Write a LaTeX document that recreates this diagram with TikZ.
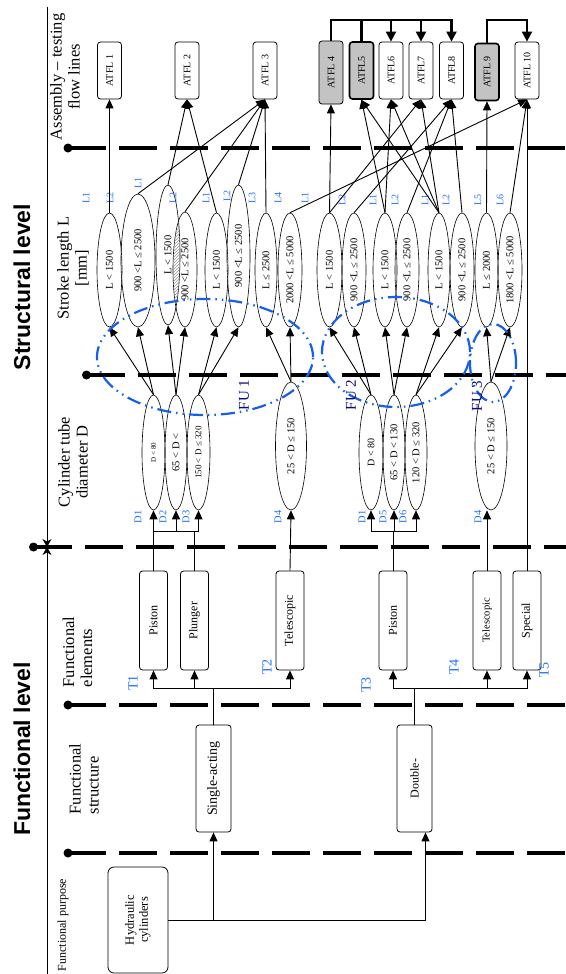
\documentclass[tikz,border=0pt]{standalone}
\usepackage{fontspec}
\setmainfont{Liberation Serif}
\newfontfamily\levelfont{Liberation Sans}
\usetikzlibrary{arrows.meta,shapes.geometric,patterns}

\definecolor{lblue}{RGB}{30,110,255}
\definecolor{fublue}{RGB}{20,95,235}
\definecolor{funavy}{RGB}{10,10,130}
\definecolor{boxgrey}{RGB}{195,195,195}

\def\fsz#1{\fontsize{#1}{#1}\selectfont}
% hatched overlap of two neighbouring ellipses
\def\lens(#1)(#2:#3)(#4)(#5:#6){\begin{scope}\clip (#1.center) ellipse (#2pt and #3pt);\fill[pattern=north east lines, pattern color=black!40] (#4.center) ellipse (#5pt and #6pt);\end{scope}}

\tikzset{
  box/.style={draw, rounded corners=3pt, rotate=90, inner sep=1pt, line width=0.8pt, font=\fsz{12}},
  atfl/.style={box, minimum width=57pt, minimum height=24pt, font=\fsz{10}},
  elem/.style={box, minimum width=99pt, minimum height=28pt},
  lell/.style={draw, ellipse, rotate=90, inner sep=0pt, line width=0.6pt, minimum width=114pt, minimum height=24pt, font=\fsz{10.5}},
  lbl/.style={rotate=90, text=lblue, inner sep=0pt, font=\fsz{10}},
  fulbl/.style={rotate=90, text=funavy, inner sep=0pt, font=\fsz{15}},
  coltitle/.style={rotate=90, inner sep=0pt, font=\fontsize{16.5}{18}\selectfont, align=center},
  leveltitle/.style={rotate=90, font=\levelfont\bfseries\fontsize{23}{23}\selectfont},
  arr/.style={-{Triangle[length=9pt,width=8pt]}, line width=0.9pt},
  thickarr/.style={-{Triangle[length=10pt,width=10pt]}, line width=2.2pt},
  levelline/.style={line width=4.5pt, dash pattern=on 38pt off 13pt},
  fu/.style={fublue, line width=2.2pt, dash pattern=on 14pt off 5pt on 1.5pt off 5pt on 1.5pt off 5pt},
}

\begin{document}
\begin{tikzpicture}[x=1pt, y=-1pt]
\useasboundingbox (0,0) rectangle (565,974);

% level separators
\foreach \yy/\xx in {148/68, 375/86.5, 547/33.5, 705/68, 853/68}{
  \fill (\xx,\yy) circle (4.5pt);
  \draw[levelline] (\xx,\yy) -- (570,\yy);
}

% axis
\draw[line width=0.8pt, -{Stealth[length=8pt,width=9pt]}] (47,7) -- (47,547);
\draw[line width=0.8pt, -{Stealth[length=8pt,width=9pt]}] (47,974) -- (47,547);

\node[leveltitle] (strlevel) at (22,287) {Structural level};
\node[leveltitle] (funlevel) at (22,749) {Functional level};

% column titles
\node[coltitle] (asm) at (65,77) {Assembly -- testing\\flow lines};
\node[coltitle] (stroke) at (73,268) {Stroke length L\\{[mm]}};
\node[coltitle] (diam) at (73,462) {Cylinder tube\\diameter D};
\node[coltitle, align=left] (felem) at (77.5,652) {Functional\\elements};
\node[coltitle, align=left] (fstruct) at (84,779) {Functional\\structure};
\node[rotate=90, inner sep=0pt, font=\fsz{12}] (fpurp) at (63,925) {Functional purpose};

% assembly - testing flow lines
\node[atfl] (atfl1) at (109.5,70.5) {ATFL 1};
\node[atfl] (atfl2) at (187,70.5) {ATFL 2};
\node[atfl] (atfl3) at (265,70.5) {ATFL 3};
\node[atfl, fill=boxgrey, minimum width=63pt] (atfl4) at (331,72.5) {ATFL 4};
\node[atfl, fill=boxgrey, line width=1.6pt] (atfl5) at (361.5,70.5) {ATFL5};
\node[atfl] (atfl6) at (391,70.5) {ATFL6};
\node[atfl] (atfl7) at (421,70.5) {ATFL7};
\node[atfl] (atfl8) at (451.5,70.5) {ATFL8};
\node[atfl, fill=boxgrey, line width=1.6pt] (atfl9) at (487,72) {ATFL 9};
\node[atfl] (atfl10) at (527,70.5) {ATFL 10};

\coordinate (fb4) at (331,20);
\coordinate (fb9) at (487,20);
\draw[thickarr] (atfl4.east) -- (fb4) -| (atfl8.east);
\draw[line width=2.2pt] (atfl5.east) -- (atfl5.east |- fb4);
\draw[thickarr] (atfl6.east |- fb4) -- (atfl6.east);
\draw[thickarr] (atfl7.east |- fb4) -- (atfl7.east);
\draw[thickarr] (atfl9.east) -- (fb9) -| (atfl10.east);

% stroke length
\node[lell, minimum height=25pt] (l1) at (109.5,270) {L < 1500};
\node[lell, minimum width=133pt, minimum height=34pt] (l2) at (138,260.5) {900 <L ≤ 2500};
\node[lell, minimum width=140pt] (l3) at (168,255) {L < 1500};
\node[lell, minimum width=115pt] (l4) at (185,269.5) {900 <L ≤ 2500};
\node[lell, minimum height=23pt] (l5) at (216.5,270) {L < 1500};
\node[lell, minimum width=142pt, minimum height=23pt] (l6) at (238.5,256) {900 <L ≤ 2500};
\node[lell, minimum height=22pt] (l7) at (266,270) {L ≤ 2500};
\node[lell] (l8) at (290,270) {2000 <L ≤ 5000};
\node[lell, minimum height=25pt] (l9) at (329.5,270) {L < 1500};
\node[lell] (l10) at (354,270) {900 <L ≤ 2500};
\node[lell] (l11) at (385,270) {L < 1500};
\node[lell] (l12) at (407,270) {900 <L ≤ 2500};
\node[lell, minimum height=22pt] (l13) at (439,270) {L < 1500};
\node[lell] (l14) at (462,270) {900 <L ≤ 2500};
\node[lell, minimum height=23pt] (l15) at (486.5,270) {L ≤ 2000};
\node[lell] (l16) at (510,270) {1800 <L ≤ 5000};

\lens(l1)(12.5:57)(l2)(17:66.5)
\lens(l3)(12:70)(l4)(12:57.5)
\lens(l5)(11.5:57)(l6)(11.5:71)
\lens(l7)(11:57)(l8)(12:57)
\lens(l9)(12.5:57)(l10)(12:57)
\lens(l11)(12:57)(l12)(12:57)
\lens(l13)(11:57)(l14)(12:57)
\lens(l15)(11.5:57)(l16)(12:57)

\foreach \x/\y/\t [count=\i] in {86/198/L1, 110/198/L2, 138/183/L1, 173/198/L2, 206/198/L1, 227/196/L2, 252/198/L3, 278/198/L4,
  305/198/L1, 342/200/L2, 373/200/L1, 395/200/L2, 425/200/L1, 446/200/L2, 478/200/L5, 500/200/L6}
  \node[lbl] (llab\i) at (\x,\y) {\t};

% cylinder tube diameter
\node[lell, minimum width=115pt, minimum height=23pt, font=\fsz{7}] (da) at (153.5,452.5) {D < 80};
\node[lell, minimum width=115pt, minimum height=22pt] (db) at (176,452.5) {65 < D <};
\node[lell, minimum width=115pt, minimum height=23pt, font=\fsz{9}] (dc) at (198.5,452.5) {150 < D ≤ 320};
\node[lell, minimum width=128pt, minimum height=31pt] (dd) at (291,446) {25 < D ≤ 150};
\node[lell, minimum width=115pt, minimum height=24pt, font=\fsz{10}] (de) at (371,452.5) {D < 80};
\node[lell, minimum width=115pt, minimum height=22pt] (df) at (394,452.5) {65 < D < 130};
\node[lell, minimum width=115pt, minimum height=22pt] (dg) at (416,452.5) {120 < D ≤ 320};
\node[lell, minimum width=128pt, minimum height=32pt] (dh) at (491,446) {25 < D ≤ 150};

\lens(da)(11.5:57.5)(db)(11:57.5)
\lens(db)(11:57.5)(dc)(11.5:57.5)
\lens(de)(12:57.5)(df)(11:57.5)
\lens(df)(11:57.5)(dg)(11:57.5)

\foreach \x/\y/\t [count=\i] in {138/517/D1, 163/517/D2, 186/517/D3, 278/517/D4, 362/517/D1, 383/517/D5, 403/517/D6, 478/517/D4}
  \node[lbl, font=\fsz{10.5}] (dlab\i) at (\x,\y) {\t};

% functional elements
\node[elem] (piston1) at (153.5,620.5) {Piston};
\node[elem] (plunger) at (194.5,620.5) {Plunger};
\node[elem] (tele1) at (290,620.5) {Telescopic};
\node[elem] (piston2) at (393,620.5) {Piston};
\node[elem, font=\fsz{10.5}] (tele2) at (487,620.5) {Telescopic};
\node[elem] (special) at (527,620.5) {Special};

\foreach \x/\y/\t [count=\i] in {133/683/T1, 267/667/T2, 366/685/T3, 454/667/T4, 544/670/T5}
  \node[lbl, font=\fsz{14}] (tlab\i) at (\x,\y) {\t};

% functional structure and purpose
\node[box, minimum width=107pt, minimum height=35pt, font=\fsz{14}] (sact) at (213.5,778.5) {Single-acting};
\node[box, minimum width=107pt, minimum height=35pt] (dact) at (414.5,778.5) {Double-};
\node[box, rounded corners=6pt, minimum width=106pt, minimum height=60pt, align=center, font=\fontsize{12.5}{14}\selectfont] (hyd) at (138,920) {Hydraulic\\cylinders};

% connectors
\draw[arr] (hyd.south) -| (sact.west);
\draw[arr] (hyd.south) -| ([xshift=11pt]dact.west);

\coordinate (busA) at (213.5,688);
\coordinate (busB) at (414.5,688);
\draw (sact.east) -- (busA);
\draw (dact.east) -- (busB);
\foreach \t in {piston1, plunger, tele1}
  \draw[arr] (busA) -| (\t.west);
\foreach \t in {piston2, tele2, special}
  \draw[arr] (busB) -| (\t.west);

\coordinate (busC) at (153.5,531);
\coordinate (busD) at (393,531);
\draw (piston1.east) -- (busC);
\draw (plunger.east) -- (plunger.east |- busC);
\draw (piston2.east) -- (busD);
\foreach \d in {da, db, dc}
  \draw[arr] (busC) -| (\d.west);
\foreach \d in {de, df, dg}
  \draw[arr] (busD) -| (\d.west);
\draw[arr] (tele1.east) -- (dd.west);
\draw[arr] (tele2.east) -- (tele2.east |- dh.west);
\draw[arr] (special.east) -- (atfl10.west);

\foreach \d/\a/\b in {da/l1/l2, db/l3/l4, dc/l5/l6, dd/l7/l8, de/l9/l10, df/l11/l12, dg/l13/l14, dh/l15/l16}{
  \draw[arr] (\d.east) -- (\a.west);
  \draw[arr] (\d.east) -- (\b.west);
}

\foreach \l/\t in {l1/atfl1, l3/atfl2, l5/atfl2, l2/atfl3, l4/atfl3, l6/atfl3, l7/atfl3, l8/atfl10,
  l9/atfl4, l9/atfl7, l10/atfl8, l11/atfl5, l11/atfl6, l12/atfl8, l13/atfl5, l13/atfl6, l13/atfl7, l14/atfl8, l15/atfl9, l16/atfl10}
  \draw[arr] (\l.east) -- (\t.west);

% functional units
\draw[fu] (205,357) ellipse (108pt and 58pt);
\draw[fu] (396,352) ellipse (74pt and 55pt);
\draw[fu] (493,363) ellipse (23pt and 39pt);
\node[fulbl] (fu1) at (244,395) {FU 1};
\node[fulbl] (fu2) at (351,395) {FU 2};
\node[fulbl] (fu3) at (477,396) {FU 3};

\end{tikzpicture}
\end{document}
